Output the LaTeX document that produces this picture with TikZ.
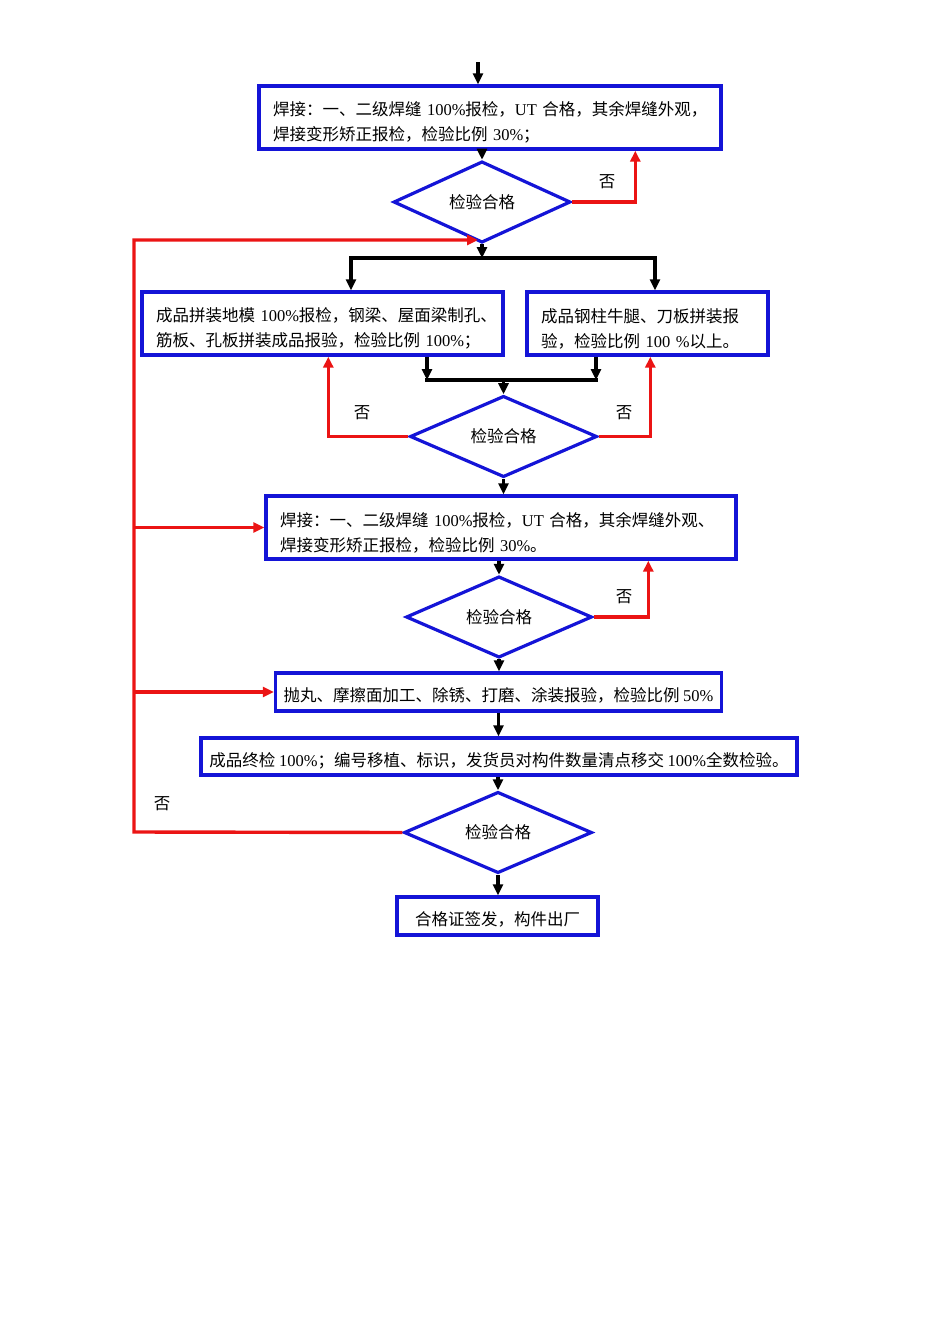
\documentclass[tikz,border=0pt]{standalone}
\usepackage{fontspec}
\setmainfont{Noto Sans CJK SC}
\newfontfamily\lat{Liberation Serif}
\usetikzlibrary{arrows.meta,shapes.geometric,calc}
\definecolor{boxblue}{RGB}{20,20,215}
\definecolor{loopred}{RGB}{235,20,20}
\newcommand{\Lt}[1]{{\lat #1}}
\newcommand{\Up}{\rule{0pt}{24pt}}
\tikzset{
  box/.style={draw=boxblue,line width=3.4pt,fill=white,inner ysep=0pt,minimum height=#1,
    font=\fontsize{16.5}{25}\selectfont},
  lbox/.style={box=63pt,inner xsep=14pt,align=left},
  cbox/.style={box=38pt,inner xsep=8pt,align=center,text height=20pt,text depth=1pt},
  dia/.style={diamond,draw=boxblue,line width=3.2pt,inner sep=0pt,fill=white,
    font=\fontsize{16.5}{20}\selectfont},
  flow/.style={line width=3.4pt,black,-{Triangle[length=11pt,width=10pt]}},
  plain/.style={line width=3.4pt,black},
  back/.style={line width=3.4pt,loopred,-{Triangle[length=11pt,width=10pt]}},
  no/.style={font=\fontsize{16.5}{20}\selectfont}
}
\begin{document}
\begin{tikzpicture}[x=1pt,y=-1pt]
\useasboundingbox (0,0) rectangle (950,1344);
% boxes
\node[lbox,text width=434pt] (b1) at (490,117.5) {\mbox{\Up 焊接：一、二级焊缝 \Lt{100\%}报检，\Lt{UT} 合格，其余焊缝外观，}\\\mbox{焊接变形矫正报检，检验比例 \Lt{30\%}；}};
\node[dia,minimum width=177pt,minimum height=64pt] (d1) at (482,202) {检验合格};
\node[lbox,text width=333pt] (b2l) at (322.5,323.5) {\mbox{\Up 成品拼装地模 \Lt{100\%}报检，钢梁、屋面梁制孔、}\\\mbox{筋板、孔板拼装成品报验，检验比例 \Lt{100\%}；}};
\node[lbox,text width=213pt] (b2r) at (647.5,323.5) {\mbox{\Up 成品钢柱牛腿、刀板拼装报}\\\mbox{验，检验比例 \Lt{100 \%}以上。}};
\node[dia,minimum width=187pt,minimum height=63pt] (d2) at (503.5,436.5) {检验合格};
\node[lbox,text width=442pt] (b3) at (501,527.5) {\mbox{\Up 焊接：一、二级焊缝 \Lt{100\%}报检，\Lt{UT} 合格，其余焊缝外观、}\\\mbox{焊接变形矫正报检，检验比例 \Lt{30\%}。}};
\node[dia,minimum width=186pt,minimum height=64pt] (d3) at (499,617) {检验合格};
\node[cbox,minimum width=445pt] (b4) at (498.5,692) {抛丸、摩擦面加工、除锈、打磨、涂装报验，检验比例 \Lt{50\%}};
\node[cbox,minimum width=596pt,minimum height=37pt] (b5) at (499,756.5) {成品终检 \Lt{100\%}；编号移植、标识，发货员对构件数量清点移交 \Lt{100\%}全数检验。};
\node[dia,minimum width=188pt,minimum height=63pt] (d4) at (498,832.5) {检验合格};
\node[cbox,minimum width=201pt] (b6) at (497.5,916) {合格证签发，构件出厂};
% labels
\node[no] (n1) at (607,182) {否};
\node[no] (n2) at (362,413) {否};
\node[no] (n3) at (624,413) {否};
\node[no] (n4) at (624,597) {否};
\node[no] (n5) at (162,804) {否};
% coordinates
\coordinate (top) at (478,62);
\coordinate (split) at (482,258);
\coordinate (sl) at (351,258);
\coordinate (sr) at (655,258);
\coordinate (ml) at (427,380);
\coordinate (mr) at (596,380);
\coordinate (mm) at (503.5,380);
\coordinate (loopc) at (134,832);
\coordinate (loopt) at (134,240);
\coordinate (loopend) at (478,240);
% black flow
\draw[flow] (top) -- (top |- b1.north);
\draw[flow] (d1.north |- b1.south) -- (d1.north);
\draw[flow] (d1.south) -- (split);
\draw[plain,line cap=rect] (sl) -- (sr);
\draw[flow] (sl) -- (sl |- b2l.north);
\draw[flow] (sr) -- (sr |- b2r.north);
\draw[flow] (ml |- b2l.south) -- (ml);
\draw[flow] (mr |- b2r.south) -- (mr);
\draw[plain,line cap=rect] (ml) -- (mr);
\draw[flow] (mm) -- (d2.north);
\draw[flow] (d2.south) -- (d2.south |- b3.north);
\draw[flow] (d3.north |- b3.south) -- (d3.north);
\draw[flow] (d3.south) -- (d3.south |- b4.north);
\draw[flow] (b4.south) -- (b4.south |- b5.north);
\draw[flow] (d4.north |- b5.south) -- (d4.north);
\draw[flow] (d4.south) -- (d4.south |- b6.north);
% red returns
\draw[back] (d1.east) -| ($(b1.south west)+(378,0)$);
\draw[back] (d2.west) -| ($(b2l.south west)+(188,0)$);
\draw[back] (d2.east) -| ($(b2r.south west)+(125,0)$);
\draw[back] (d3.east) -| ($(b3.south west)+(384,0)$);
\draw[back] (d4.west) -- (loopc) -- (loopt) -- (loopend);
\draw[back] (b3.west -| loopt) -- (b3.west);
\draw[back] (b4.west -| loopt) -- (b4.west);
\end{tikzpicture}
\end{document}
